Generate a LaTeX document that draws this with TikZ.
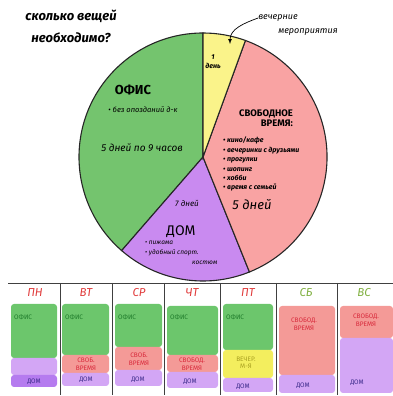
\documentclass[tikz,border=0pt]{standalone}
\usepackage{fontspec}
\setmainfont{Fira Sans}
\usepackage{xcolor}
\usetikzlibrary{arrows,positioning}

\definecolor{piegreen}{HTML}{74C46E}
\definecolor{pieyellow}{HTML}{FAF38A}
\definecolor{piepink}{HTML}{F9A3A3}
\definecolor{piepurple}{HTML}{C98AF0}
\definecolor{tgreen}{HTML}{6CC66C}
\definecolor{tpink}{HTML}{F49A97}
\definecolor{tpurple}{HTML}{D3A6F5}
\definecolor{tdarkpurple}{HTML}{B57BEF}
\definecolor{tyellow}{HTML}{F3EE5E}
\definecolor{dayred}{HTML}{E03A3A}
\definecolor{daygreen}{HTML}{7FAF3F}
\definecolor{officeink}{HTML}{1E7A2A}
\definecolor{freeink}{HTML}{D8283A}
\definecolor{homeink}{HTML}{3A2A8A}
\definecolor{eveink}{HTML}{A8A020}

\begin{document}
\begin{tikzpicture}[x=1pt,y=1pt,
  slice/.style={draw=black!85, line width=1.1pt},
  hand/.style={inner sep=0pt, align=left},
  cell/.style={rounded corners=3pt},
  cellnote/.style={inner sep=0pt, font=\fontsize{6.5}{7.5}\selectfont, align=center},
  day/.style={inner sep=0pt, font=\fontsize{11.5}{13}\selectfont\itshape}]

  \useasboundingbox (0,0) rectangle (393,396);

  \coordinate (c) at (203,239);
  \filldraw[slice, fill=piegreen] (c) -- ++(90:124) arc (90:229:124) -- cycle;
  \filldraw[slice, fill=piepurple] (c) -- ++(229:124) arc (229:292:124) -- cycle;
  \filldraw[slice, fill=piepink] (c) -- ++(-68:124) arc (-68:70:124) -- cycle;
  \filldraw[slice, fill=pieyellow] (c) -- ++(70:124) arc (70:90:124) -- cycle;

  \node[hand, align=center, font=\fontsize{13}{22}\selectfont\bfseries\itshape] (question) at (71,370) {сколько вещей\\необходимо?};

  \node[hand, font=\fontsize{9}{10}\selectfont\itshape] (evening) at (278,378) {вечерние};
  \node[hand, font=\fontsize{9}{10}\selectfont\itshape] (evening2) at (308,364) {мероприятия};
  \coordinate (eveningtip) at (230,352);
  \draw[-latex, line width=0.7pt] (evening.west) to[out=200,in=90] (eveningtip);

  \node[hand, align=center, font=\fontsize{7}{9}\selectfont\bfseries\itshape] (oneday) at (213,334) {1\\день};

  \node[hand, font=\fontsize{13}{14}\selectfont\bfseries] (office) at (133,306) {ОФИС};
  \node[hand, font=\fontsize{7.5}{9}\selectfont\itshape] (officenote) at (143,286) {• без опозданий д-к};
  \node[hand, font=\fontsize{10}{12}\selectfont\itshape] (officedays) at (142,248) {5 дней по 9 часов};

  \node[hand, align=right, font=\fontsize{9.5}{10.5}\selectfont\bfseries] (freetitle) at (266,278) {СВОБОДНОЕ\\ВРЕМЯ:};
  \node[hand, anchor=north west, font=\fontsize{7}{9.4}\selectfont\bfseries\itshape] (freelist) at (223,259)
    {• кино/кафе\\• вечеринки с друзьями\\• прогулки\\• шопинг\\• хобби\\• время с семьей};
  \node[hand, font=\fontsize{13}{14}\selectfont\itshape] (freedays) at (252,191) {5 дней};

  \node[hand, font=\fontsize{8}{9}\selectfont\itshape] (homedays) at (187,193) {7 дней};
  \node[hand, font=\fontsize{14}{15}\selectfont] (home) at (181,164) {ДОМ};
  \node[hand, anchor=north west, font=\fontsize{6.5}{10}\selectfont\itshape] (homelist) at (145,155)
    {• пижама\\• удобный спорт.\\\hspace*{47pt}костюм};

  % week
  \draw[black!75, line width=0.9pt] (8,113) -- (393,113);
  \foreach \x in {60,112,164,220,276,337}
    \draw[black!75, line width=0.9pt] (\x,113) -- (\x,1);
  \foreach \d/\x/\c in {ПН/35/dayred, ВТ/86/dayred, СР/139/dayred, ЧТ/192/dayred, ПТ/248/dayred, СБ/306/daygreen, ВС/364/daygreen}
    \node[day, text=\c] (day\x) at (\x,103) {\d};

  \fill[cell, fill=tgreen] (11,92) rectangle (57,38);
  \fill[cell, fill=tpurple] (11,38) rectangle (57,21);
  \fill[cell, fill=tdarkpurple] (11,21) rectangle (57,9);

  \fill[cell, fill=tgreen] (62,92) rectangle (109,41);
  \fill[cell, fill=tpink] (62,41) rectangle (109,23);
  \fill[cell, fill=tpurple] (62,23) rectangle (109,10);

  \fill[cell, fill=tgreen] (115,92) rectangle (162,49);
  \fill[cell, fill=tpink] (115,49) rectangle (162,26);
  \fill[cell, fill=tpurple] (115,26) rectangle (162,10);

  \fill[cell, fill=tgreen] (167,90) rectangle (218,41);
  \fill[cell, fill=tpink] (167,41) rectangle (218,24);
  \fill[cell, fill=tpurple] (167,24) rectangle (218,8);

  \fill[cell, fill=tgreen] (223,92) rectangle (273,46);
  \fill[cell, fill=tyellow] (223,46) rectangle (273,18);
  \fill[cell, fill=tpurple] (223,18) rectangle (273,4);

  \fill[cell, fill=tpink] (279,90) rectangle (335,21);
  \fill[cell, fill=tpurple] (279,21) rectangle (335,3);

  \fill[cell, fill=tpink] (340,90) rectangle (393,58);
  \fill[cell, fill=tpurple] (340,58) rectangle (393,3);

  \foreach \x in {14,65,118,170,226}
    \node[cellnote, anchor=west, text=officeink] (office\x) at (\x,79) {ОФИС};

  \node[cellnote, text=freeink] (freeTue) at (86,32) {СВОБ.\\ВРЕМЯ};
  \node[cellnote, text=freeink] (freeWed) at (139,37) {СВОБ.\\ВРЕМЯ};
  \node[cellnote, text=freeink] (freeThu) at (192,32) {СВОБОД.\\ВРЕМЯ};
  \node[cellnote, text=eveink] (evenFri) at (246,33) {ВЕЧЕР.\\М-Я};
  \node[cellnote, text=freeink] (freeSat) at (304,72) {СВОБОД.\\ВРЕМЯ};
  \node[cellnote, text=freeink] (freeSun) at (366,76) {СВОБОД.\\ВРЕМЯ};

  \foreach \x/\y in {34/14, 86/16, 138/16, 190/14, 243/9, 303/10, 357/13}
    \node[cellnote, text=homeink] (homecell\x) at (\x,\y) {ДОМ};

\end{tikzpicture}
\end{document}
